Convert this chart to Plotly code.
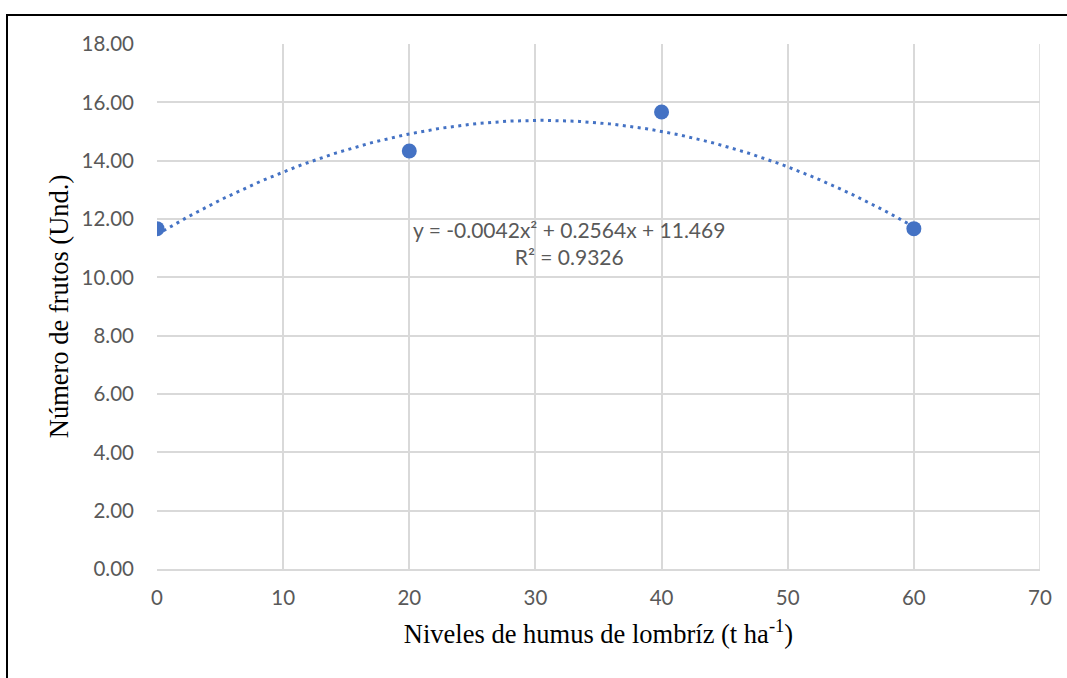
import numpy as np
import plotly.graph_objects as go

# Observed data
niveles = [0, 20, 40, 60]
frutos = [11.67, 14.33, 15.67, 11.67]

# Polynomial (order 2) trendline coefficients and fit statistic
coef_a, coef_b, coef_c = -0.0042, 0.2564, 11.469
r2 = 0.9326

y_ticks = [0, 2, 4, 6, 8, 10, 12, 14, 16, 18]
x_ticks = [0, 10, 20, 30, 40, 50, 60, 70]

blue = "#4472C4"
grid = "#D9D9D9"
tick_font = dict(family="Lato, Open Sans, sans-serif", size=20.5, color="#595959")
title_font = dict(family="Liberation Serif, Times New Roman, serif", size=26.5, color="black")

xs = np.linspace(min(niveles), max(niveles), 200)
ys = coef_a * xs**2 + coef_b * xs + coef_c

fig = go.Figure()
fig.add_trace(go.Scatter(x=xs, y=ys, mode="lines",
                         line=dict(color=blue, width=3, dash="3px,4.5px"),
                         hoverinfo="skip", showlegend=False))
fig.add_trace(go.Scatter(x=niveles, y=frutos, mode="markers",
                         marker=dict(color=blue, size=15),
                         showlegend=False))

fig.add_annotation(x=32.7, y=11.18, xref="x", yref="y", showarrow=False,
                   text=f"y = {coef_a}x² + {coef_b}x + {coef_c}<br>R² = {r2}",
                   font=dict(family="Lato, Open Sans, sans-serif", size=21, color="#595959"),
                   align="center")

# outer frame (left and top edges visible)
W, H = 1067, 678
ml, mr, mt, mb = 157, 27, 44, 109
pw, ph = W - ml - mr, H - mt - mb
x_left = (7 - ml) / pw
y_top = (ph + mt - 15) / ph
fig.add_shape(type="path", xref="paper", yref="paper",
              path=f"M {x_left} -0.5 L {x_left} {y_top} L 1.2 {y_top}",
              line=dict(color="black", width=2))

fig.update_xaxes(range=[0, 70], tickvals=x_ticks, showgrid=True, gridcolor=grid,
                 gridwidth=1.5, zeroline=False, showline=True, linecolor=grid,
                 linewidth=1.5, mirror=False, tickfont=tick_font, ticks="",
                 ticklabelstandoff=10,
                 title=dict(text="Niveles de humus de lombríz (t ha<sup>-1</sup>)",
                            font=title_font, standoff=16))
fig.update_yaxes(range=[0, 18], tickvals=y_ticks,
                 ticktext=[f"{v:.2f}" for v in y_ticks],
                 showgrid=True, gridcolor=grid, gridwidth=1.5, zeroline=False,
                 showline=False, tickfont=tick_font, ticks="", ticklabelstandoff=22,
                 title=dict(text="Número de frutos (Und.)", font=title_font, standoff=5))

fig.update_layout(width=W, height=H, margin=dict(l=ml, r=mr, t=mt, b=mb),
                  plot_bgcolor="white", paper_bgcolor="white")

# right border line of plot area at x = 70
fig.add_shape(type="line", xref="x", yref="y", x0=70, x1=70, y0=0, y1=18,
              line=dict(color=grid, width=1.5))

fig.write_html("out.html")
